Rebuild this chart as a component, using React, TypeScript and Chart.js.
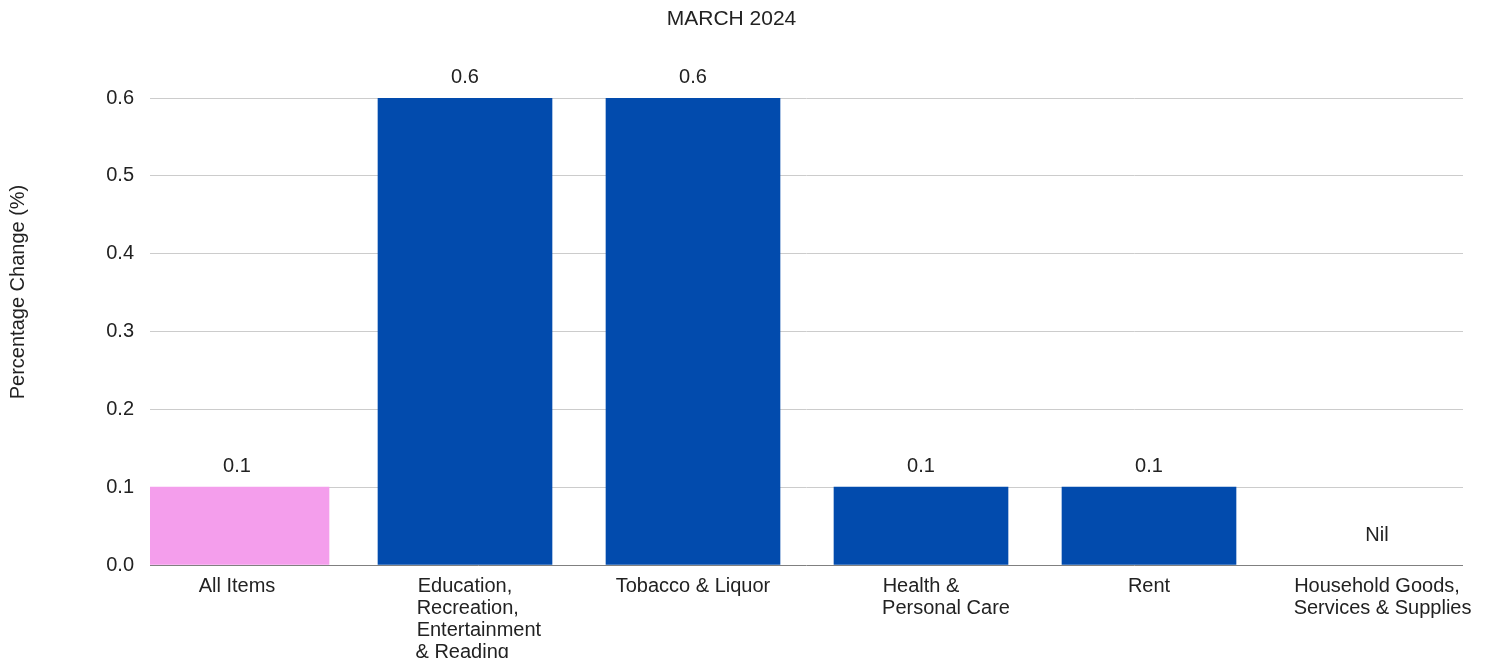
import { useEffect, useRef } from 'react';
import { Chart, registerables } from 'chart.js';

Chart.register(...registerables);

const FONT_FAMILY = '"Liberation Sans", Arial, sans-serif';
const TEXT_COLOR = '#222222';

const TITLE = 'MARCH 2024';
const Y_TITLE = 'Percentage Change (%)';

const categories: string[][] = [
  ['All Items'],
  ['Education,', 'Recreation,', 'Entertainment', '& Reading'],
  ['Tobacco & Liquor'],
  ['Health &', 'Personal Care'],
  ['Rent'],
  ['Household Goods,', 'Services & Supplies'],
];
const values: number[] = [0.1, 0.6, 0.6, 0.1, 0.1, 0];
const valueLabels: string[] = ['0.1', '0.6', '0.6', '0.1', '0.1', 'Nil'];
const yTicks: number[] = [0, 0.1, 0.2, 0.3, 0.4, 0.5, 0.6];

// layout-only: horizontal nudge (px) of wrapped tick-label blocks
const LABEL_NUDGE: number[] = [0, 15, 0, 25, 0, 5];

const PINK = '#F49EEC';
const BLUE = '#024BAD';

const measureCtx = document.createElement('canvas').getContext('2d') as CanvasRenderingContext2D;
function formatLabel(lines: string[], nudge: number): string | string[] {
  if (lines.length === 1) return lines[0];
  measureCtx.font = `20px ${FONT_FAMILY}`;
  const widths = lines.map((l) => measureCtx.measureText(l).width);
  const maxW = Math.max(...widths);
  const sp = measureCtx.measureText(' ').width;
  const lead = ' '.repeat(Math.max(0, Math.round((2 * nudge) / sp)));
  return lines.map((l, i) => lead + l + ' '.repeat(Math.max(0, Math.round((maxW - widths[i]) / sp))));
}

const valueLabelPlugin = {
  id: 'valueLabels',
  afterDatasetsDraw(chart: any) {
    const ctx = chart.ctx;
    ctx.save();
    ctx.font = `20px ${FONT_FAMILY}`;
    ctx.fillStyle = TEXT_COLOR;
    ctx.textAlign = 'center';
    ctx.textBaseline = 'middle';
    chart.data.datasets.forEach((ds: any, di: number) => {
      const meta = chart.getDatasetMeta(di);
      meta.data.forEach((el: any, j: number) => {
        const idx = ds.data[j].x;
        const off = values[idx] === 0 ? 30 : 21;
        ctx.fillText(valueLabels[idx], el.x, el.y - off);
      });
    });
    ctx.restore();
  },
};

const yTitlePlugin = {
  id: 'yTitle',
  afterDraw(chart: any) {
    const ctx = chart.ctx;
    ctx.save();
    ctx.font = `20px ${FONT_FAMILY}`;
    ctx.fillStyle = TEXT_COLOR;
    ctx.textAlign = 'center';
    ctx.textBaseline = 'middle';
    ctx.translate(18, 292);
    ctx.rotate(-Math.PI / 2);
    ctx.fillText(Y_TITLE, 0, 0);
    ctx.restore();
  },
};

export default function App() {
  const canvasRef = useRef<HTMLCanvasElement | null>(null);

  useEffect(() => {
    if (!canvasRef.current) return;
    Chart.defaults.font.family = FONT_FAMILY;
    Chart.defaults.color = TEXT_COLOR;

    const points = values.map((v, i) => ({ x: i, y: v }));

    const chart = new Chart(canvasRef.current, {
      type: 'bar',
      data: {
        datasets: [
          {
            label: 'All Items',
            data: points.slice(0, 1),
            backgroundColor: PINK,
            barThickness: 184,
            grouped: false,
          } as any,
          {
            label: 'Groups',
            data: points.slice(1),
            backgroundColor: (c: any) => (c.raw && c.raw.y === 0 ? 'rgba(0,0,0,0)' : BLUE),
            barThickness: 174,
            grouped: false,
          } as any,
        ],
      },
      options: {
        animation: false,
        responsive: true,
        maintainAspectRatio: false,
        events: [],
        layout: { padding: { left: 0, right: 28, top: 0, bottom: 0 } },
        plugins: {
          legend: { display: false },
          tooltip: { enabled: false },
          title: {
            display: true,
            text: TITLE,
            color: TEXT_COLOR,
            font: { size: 21, weight: 'normal', lineHeight: 1.2 },
            padding: { top: 7, bottom: 65.8 },
          },
        },
        scales: {
          x: {
            type: 'linear',
            min: -87 / 228,
            max: (1463 - 237) / 228,
            offset: false,
            grid: { display: false, drawTicks: false, offset: false },
            border: { display: false },
            afterBuildTicks: (scale: any) => {
              scale.ticks = categories.map((_, i) => ({ value: i }));
            },
            afterFit: (scale: any) => {
              scale.height = 93;
            },
            ticks: {
              autoSkip: false,
              maxRotation: 0,
              minRotation: 0,
              padding: 10.5,
              color: TEXT_COLOR,
              font: { size: 20, lineHeight: 1.1 },
              callback: (value: any) => {
                const i = Math.round(Number(value));
                const lines = categories[i];
                return lines ? formatLabel(lines, LABEL_NUDGE[i] || 0) : '';
              },
            },
          },
          y: {
            type: 'linear',
            min: 0,
            max: 0.6,
            grid: {
              drawTicks: false,
              lineWidth: 1,
              color: (c: any) => (c.tick && Math.abs(c.tick.value) < 1e-9 ? '#808080' : '#cccccc'),
            },
            border: { display: false },
            afterBuildTicks: (scale: any) => {
              scale.ticks = yTicks.map((v) => ({ value: v }));
            },
            afterFit: (scale: any) => {
              scale.width = 150;
            },
            ticks: {
              padding: 16,
              color: TEXT_COLOR,
              font: { size: 20 },
              callback: (value: any) => Number(value).toFixed(1),
            },
          },
        },
      } as any,
      plugins: [valueLabelPlugin, yTitlePlugin],
    });

    return () => chart.destroy();
  }, []);

  return (
    <div style={{ position: 'absolute', left: 0, top: 0, width: 1491, height: 658 }}>
      <canvas ref={canvasRef} />
    </div>
  );
}
